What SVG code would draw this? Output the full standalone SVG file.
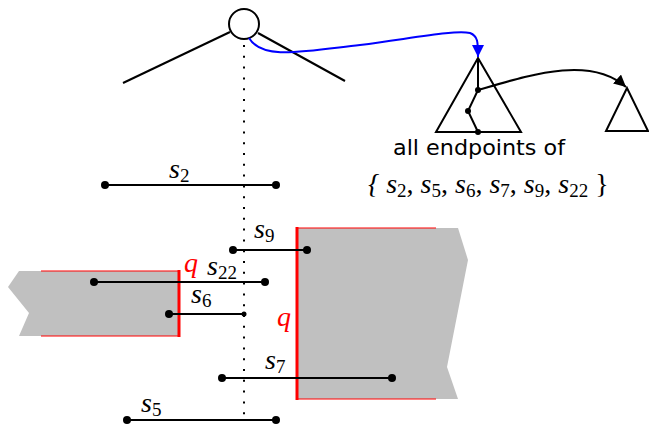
<svg xmlns="http://www.w3.org/2000/svg" width="649" height="426" viewBox="0 0 649 426">
<defs>
<style>
.ln{stroke:#000;stroke-width:2;fill:none}
.dot{fill:#000}
.m{font-family:"Liberation Serif",serif;font-style:italic;font-size:28px;fill:#000}
.sub{font-style:normal;font-size:19px}
.rm{font-style:normal}
.q{font-family:"Liberation Serif",serif;font-style:italic;font-size:28px;fill:#f00}
.sans{font-family:"DejaVu Sans","Liberation Sans",sans-serif;font-size:21px;fill:#000}
.gray{fill:#c0c0c0}
.redthin{stroke:#f00;stroke-width:1;fill:none}
.redthick{stroke:#f00;stroke-width:3;fill:none}
</style>
<marker id="ab" viewBox="0 0 10 10" refX="10" refY="5" markerWidth="12" markerHeight="12" markerUnits="userSpaceOnUse" orient="auto"><path d="M0,0 L10,5 L0,10 z" fill="#00f"/></marker>
<marker id="ak" viewBox="0 0 10 10" refX="10" refY="5" markerWidth="12" markerHeight="12" markerUnits="userSpaceOnUse" orient="auto"><path d="M0,0 L10,5 L0,10 z" fill="#000"/></marker>
</defs>

<g id="region-left">
<polygon class="gray" points="19,271 179,271 179,336 19,336 29,313 8,287"/>
<line class="redthin" x1="41" y1="271" x2="179" y2="271"/>
<line class="redthin" x1="41" y1="336" x2="179" y2="336"/>
<line class="redthick" x1="179" y1="270" x2="179" y2="337"/>
<text class="q" x="184" y="272">q</text>
</g>

<g id="region-right">
<polygon class="gray" points="297,228 458,228 468,260 447,367 458,399 297,399"/>
<line class="redthin" x1="297" y1="228" x2="436" y2="228"/>
<line class="redthin" x1="297" y1="399" x2="436" y2="399"/>
<line class="redthick" x1="297" y1="227" x2="297" y2="400"/>
<text class="q" x="277" y="326">q</text>
</g>

<g id="root">
<circle cx="244" cy="24" r="15" fill="#fff" stroke="#000" stroke-width="2"/>
<line class="ln" x1="123" y1="83" x2="230" y2="32"/>
<line class="ln" x1="258" y1="33" x2="345" y2="81"/>
</g>

<g id="sweep">
<line x1="244" y1="45" x2="244" y2="422" stroke="#000" stroke-width="2" stroke-dasharray="2 8.8"/>
</g>

<g id="s2">
<line class="ln" x1="105" y1="185" x2="276" y2="185"/>
<circle class="dot" cx="105" cy="185" r="4"/><circle class="dot" cx="276" cy="185" r="4"/>
<text class="m" x="169" y="178">s<tspan class="sub" dy="4">2</tspan></text>
</g>
<g id="s9">
<line class="ln" x1="233" y1="250" x2="307" y2="250"/>
<circle class="dot" cx="233" cy="250" r="4"/><circle class="dot" cx="307" cy="250" r="4"/>
<text class="m" x="254" y="238">s<tspan class="sub" dy="4">9</tspan></text>
</g>
<g id="s22">
<line class="ln" x1="94" y1="282" x2="265" y2="282"/>
<circle class="dot" cx="94" cy="282" r="4"/><circle class="dot" cx="265" cy="282" r="4"/>
<text class="m" x="207" y="275">s<tspan class="sub" dy="4">22</tspan></text>
</g>
<g id="s6">
<line class="ln" x1="169" y1="314" x2="244" y2="314"/>
<circle class="dot" cx="169" cy="314" r="4"/><circle class="dot" cx="244" cy="314" r="2.5"/>
<text class="m" x="191" y="303">s<tspan class="sub" dy="4">6</tspan></text>
</g>
<g id="s7">
<line class="ln" x1="222" y1="378" x2="392" y2="378"/>
<circle class="dot" cx="222" cy="378" r="4"/><circle class="dot" cx="392" cy="378" r="4"/>
<text class="m" x="265" y="369">s<tspan class="sub" dy="4">7</tspan></text>
</g>
<g id="s5">
<line class="ln" x1="127" y1="420" x2="276" y2="420"/>
<circle class="dot" cx="127" cy="420" r="4"/><circle class="dot" cx="276" cy="420" r="4"/>
<text class="m" x="141" y="412">s<tspan class="sub" dy="4">5</tspan></text>
</g>

<g id="tree1">
<polygon points="478,58 436,132 521,132" fill="none" stroke="#000" stroke-width="2"/>
<polyline class="ln" points="478,58 478,90 468,111 478,132"/>
<circle class="dot" cx="478" cy="90" r="3"/><circle class="dot" cx="468" cy="111" r="3"/><circle class="dot" cx="478" cy="132" r="3"/>
<text class="sans" x="479" y="155" text-anchor="middle" textLength="172" lengthAdjust="spacingAndGlyphs">all endpoints of</text>
<text class="m" x="368" y="193" font-size="29px">{ s<tspan class="sub" dy="4" font-size="20px">2</tspan><tspan class="rm" dy="-4">, </tspan>s<tspan class="sub" dy="4" font-size="20px">5</tspan><tspan class="rm" dy="-4">, </tspan>s<tspan class="sub" dy="4" font-size="20px">6</tspan><tspan class="rm" dy="-4">, </tspan>s<tspan class="sub" dy="4" font-size="20px">7</tspan><tspan class="rm" dy="-4">, </tspan>s<tspan class="sub" dy="4" font-size="20px">9</tspan><tspan class="rm" dy="-4">, </tspan>s<tspan class="sub" dy="4" font-size="20px">22</tspan><tspan class="rm" dy="-4"> }</tspan></text>
</g>

<g id="tree2">
<polygon points="627,88 606,131 648,131" fill="none" stroke="#000" stroke-width="2"/>
</g>

<g id="connectors">
<path d="M249,38 C262,60 300,52 360,45 C420,37 455,30 470,33 C478,36 478,42 478,57" fill="none" stroke="#00f" stroke-width="2" marker-end="url(#ab)"/>
<path d="M478,90 C530,75 590,55 626,87" fill="none" stroke="#000" stroke-width="2" marker-end="url(#ak)"/>
</g>
</svg>
